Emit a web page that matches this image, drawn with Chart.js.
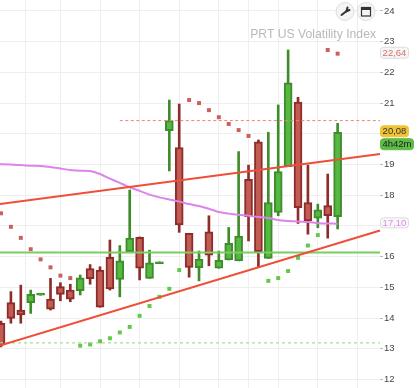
<!DOCTYPE html>
<html><head><meta charset="utf-8">
<style>html,body{margin:0;padding:0;background:#fff}canvas{display:block;filter:blur(0.3px)}</style>
<script src="https://cdn.jsdelivr.net/npm/chart.js@4"></script>
</head><body><canvas id="c" width="420" height="388"></canvas>
<script>
const chartTitle = 'PRT US Volatility Index';
const tickValues = [12,13,14,15,16,17,18,19,20,21,22,23,24];
const hiddenTicks = [17, 20];
const opens  = [13.83,14.50,14.26,14.50,14.74,14.62,15.02,14.91,14.89,15.61,15.56,15.98,15.26,16.16,16.63,15.29,15.77,20.10,19.55,16.76,15.64,16.81,15.62,15.89,15.86,18.52,19.74,15.94,17.44,18.93,21.03,17.76,17.25,17.66,17.30];
const closes = [13.12,13.99,14.10,14.77,14.80,14.29,14.77,14.61,15.31,15.28,14.35,14.95,15.86,16.60,15.62,15.80,15.83,20.43,17.03,15.65,15.92,16.05,15.88,16.43,16.67,17.30,16.16,17.76,18.77,21.66,17.59,17.16,17.52,17.33,20.05];
const highs  = [13.90,14.86,15.07,14.91,14.80,15.29,15.15,15.10,15.40,15.74,15.67,16.54,16.36,18.17,16.64,16.21,15.83,21.10,20.97,16.76,16.18,17.33,16.18,16.95,19.42,18.98,19.80,20.05,20.94,22.73,21.19,18.98,17.71,18.69,20.34];
const lows   = [13.06,13.83,13.83,14.15,14.74,14.26,14.56,14.53,14.75,15.10,14.35,14.91,14.69,16.16,15.24,15.29,15.77,18.79,16.79,15.33,15.21,15.70,15.62,15.89,15.86,16.51,15.65,15.94,17.33,18.93,17.08,16.73,16.94,16.60,16.90];
const sarAbove = [17.41,16.97,16.61,16.24,15.91,15.65,15.38,15.30,null,null,null,null,null,null,null,null,null,null,null,21.10,21.00,20.77,20.54,20.32,20.12,19.93,null,null,null,null,null,null,null,22.73,22.61];
const sarBelow = [null,null,null,null,null,null,null,null,13.10,13.14,13.24,13.34,13.53,13.71,14.07,14.39,14.69,14.95,15.56,null,null,null,null,null,null,null,null,15.21,15.30,15.53,15.96,16.36,16.70,null,null];
const movingAvg = [19.01,19.00,18.98,18.96,18.95,18.92,18.87,18.82,18.80,18.79,18.69,18.54,18.40,18.26,18.14,18.02,17.93,17.86,17.79,17.71,17.65,17.56,17.45,17.40,17.36,17.33,17.29,17.26,17.19,17.16,17.14,17.13,17.09,17.08,17.07];
const lineX = [-0.1, 38.28, 42.32];
const upperTrend = [17.71, 19.34, 19.50];
const lowerTrend = [13.10, 16.85, 17.26];
const supportLine = [16.13, 16.13, 16.13];
const dashedSupport = [13.19, 13.19, 13.19];
const resistanceX = [12, 38.28, 42.32];
const dashedResistance = [20.43, 20.43, 20.43];
const gridColumns = [1, 4, 8, 12, 16, 20, 24, 26, 30, 34, 38];
const badges = [
  {value: 22.64, text: '22,64', w: 28, h: 11, fill: '#f6f6f6', stroke: '#dcdcdc', color: '#d9706a'},
  {value: 20.08, text: '20,08', w: 28, h: 11, fill: '#f1c232', stroke: '#f1c232', color: '#333'},
  {value: 19.66, text: '4h42m', w: 33, h: 11, fill: '#5dbb46', stroke: '#5dbb46', color: '#222'},
  {value: 17.10, text: '17,10', w: 28, h: 10, fill: '#f8f8f8', stroke: '#dcdcdc', color: '#d98ae6'}
];

const idx = opens.map((_, i) => i);
const GREEN = '#55b840', GREEN_D = '#3f8c2c', RED = '#c25c52', RED_D = '#8d2c2a';
const isUp = i => closes[i] >= opens[i];
const series = arr => arr.map((y, i) => ({x: i, y}));
const xy = (xs, ys) => xs.map((x, i) => ({x, y: ys[i]}));
const fade = (solid, faint) => ({borderColor: c => c.p0DataIndex === 1 ? faint : solid});

const overlay = {
  id: 'overlay',
  afterDatasetsDraw(chart) {
    const g = chart.ctx, ys = chart.scales.y;
    g.save();
    g.font = '12.2px "Liberation Sans"';
    g.fillStyle = '#b9b9b9';
    g.textAlign = 'right';
    g.textBaseline = 'alphabetic';
    g.fillText(chartTitle, 376, 38);
    g.font = '9.5px "Liberation Sans"';
    g.textBaseline = 'middle';
    g.textAlign = 'center';
    badges.forEach(b => {
      const cy = ys.getPixelForValue(b.value);
      g.beginPath();
      g.roundRect(380.5, cy - b.h / 2, b.w, b.h, 3);
      g.fillStyle = b.fill; g.fill();
      g.strokeStyle = b.stroke; g.lineWidth = 1; g.stroke();
      g.fillStyle = b.color;
      g.fillText(b.text, 380.5 + b.w / 2, cy + 0.5);
    });
    [345, 366].forEach(cx => {
      g.beginPath(); g.arc(cx, 11.5, 9, 0, Math.PI * 2);
      g.fillStyle = '#f5f5f5'; g.fill();
      g.strokeStyle = '#dedede'; g.lineWidth = 1; g.stroke();
    });
    g.strokeStyle = '#333'; g.lineCap = 'round';
    g.lineWidth = 2; g.beginPath(); g.moveTo(341.5, 15); g.lineTo(346, 11.5); g.stroke();
    g.beginPath(); g.moveTo(346, 11.5); g.lineTo(349.5, 10); g.moveTo(346.5, 11); g.lineTo(347.5, 7.5); g.stroke();
    g.lineCap = 'butt'; g.lineWidth = 1.2;
    g.strokeRect(361.5, 7.5, 9, 8.5);
    g.fillStyle = '#333'; g.fillRect(361.5, 7.5, 9, 2.5);
    g.restore();
  }
};

new Chart(document.getElementById('c'), {
  type: 'bar',
  data: {datasets: [
    {type: 'line', data: xy(lineX, upperTrend), borderColor: '#ef4f38', borderWidth: 2, pointRadius: 0, clip: false, order: 1, segment: fade('#ef4f38', '#fbd3cc')},
    {type: 'line', data: xy(lineX, lowerTrend), borderColor: '#ef4f38', borderWidth: 2, pointRadius: 0, clip: false, order: 1, segment: fade('#ef4f38', '#fbd3cc')},
    {type: 'line', data: xy(lineX, supportLine), borderColor: '#7ccb63', borderWidth: 2, pointRadius: 0, clip: false, order: 2, segment: fade('#7ccb63', '#dcf2d5')},
    {type: 'line', data: xy(lineX, dashedSupport), borderColor: '#a5df95', borderWidth: 1.3, borderDash: [3, 3], pointRadius: 0, clip: false, order: 2, segment: fade('#a5df95', '#e6f6e1')},
    {type: 'line', data: xy(resistanceX, dashedResistance), borderColor: '#f0837a', borderWidth: 1, borderDash: [3, 2.5], pointRadius: 0, clip: false, order: 2, segment: fade('#f0837a', '#fad6d2')},
    {type: 'line', data: [{x: -0.1, y: movingAvg[0]}, ...series(movingAvg).slice(1)], borderColor: '#dc84ea', borderWidth: 2, pointRadius: 0, tension: 0.2, clip: false, order: 3},
    {type: 'line', data: series(sarAbove), showLine: false, pointStyle: 'rect', pointRadius: 2.8, pointBackgroundColor: '#c9605c', pointBorderWidth: 0, order: 4},
    {type: 'line', data: series(sarBelow), showLine: false, pointStyle: 'rect', pointRadius: 2.8, pointBackgroundColor: '#62c84a', pointBorderWidth: 0, order: 4},
    {data: idx.map(i => ({x: i, y: [Math.min(opens[i], closes[i]), Math.max(opens[i], closes[i])]})),
     grouped: false, barThickness: 8, borderWidth: 2, borderSkipped: false,
     backgroundColor: idx.map(i => isUp(i) ? GREEN : RED),
     borderColor: idx.map(i => isUp(i) ? GREEN_D : RED_D), order: 5},
    {data: idx.map(i => ({x: i, y: [lows[i], highs[i]]})),
     grouped: false, barThickness: 2, borderWidth: 0,
     backgroundColor: idx.map(i => isUp(i) ? GREEN_D : RED_D), order: 6}
  ]},
  options: {
    responsive: false, animation: false,
    layout: {padding: 0, autoPadding: false},
    plugins: {legend: {display: false}, tooltip: {enabled: false}},
    scales: {
      x: {
        type: 'linear', min: -0.101, max: 38.28, offset: false,
        afterFit: s => { s.height = 0; s.paddingLeft = 0; s.paddingRight = 0; },
        afterBuildTicks: s => { s.ticks = gridColumns.map(value => ({value})); },
        ticks: {display: false},
        border: {display: false},
        grid: {color: '#efefef', lineWidth: 1, drawTicks: false}
      },
      y: {
        position: 'right', min: 11.72, max: 24.358,
        afterFit: s => { s.width = 40; s.paddingTop = 0; s.paddingBottom = 0; },
        afterBuildTicks: s => { s.ticks = tickValues.map(value => ({value})); },
        ticks: {padding: 1, autoSkip: false, color: '#444',
          font: {family: '"Liberation Sans"', size: 9.5},
          callback: v => hiddenTicks.includes(v) ? '' : String(v)},
        border: {display: false},
        grid: {color: '#efefef', lineWidth: 1, tickLength: 3, tickColor: '#bbb'}
      }
    }
  },
  plugins: [overlay]
});
</script></body></html>
